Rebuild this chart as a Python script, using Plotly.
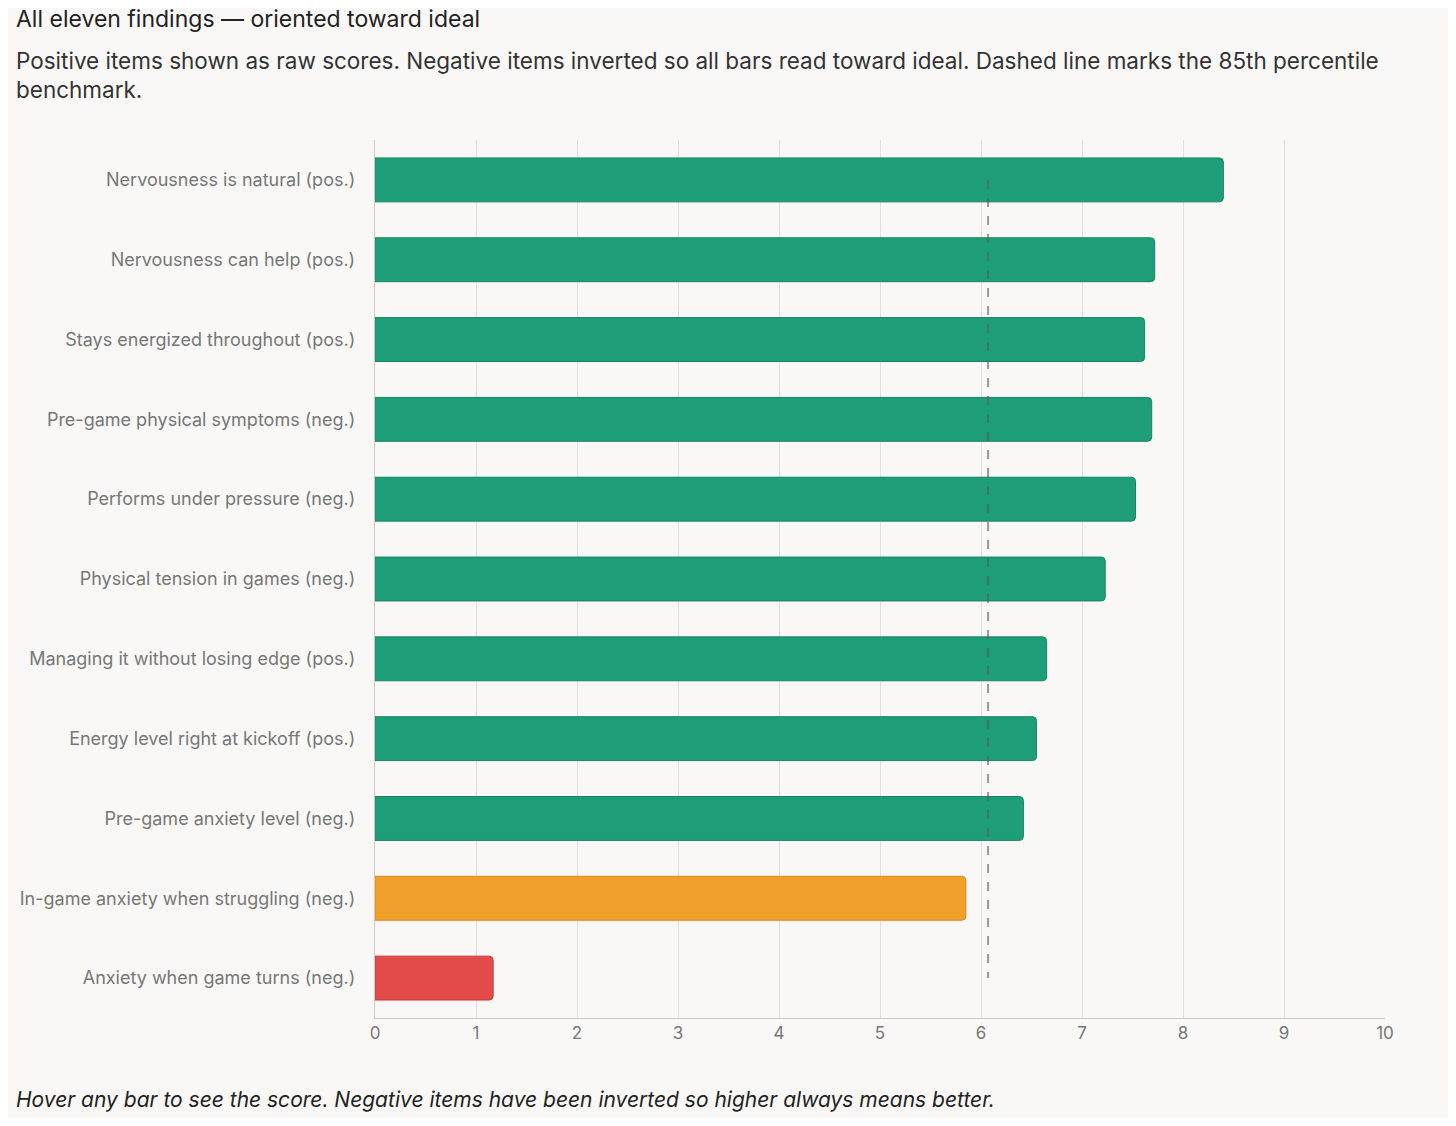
import plotly.graph_objects as go

# items top to bottom
items = [
    "Nervousness is natural (pos.)",
    "Nervousness can help (pos.)",
    "Stays energized throughout (pos.)",
    "Pre-game physical symptoms (neg.)",
    "Performs under pressure (neg.)",
    "Physical tension in games (neg.)",
    "Managing it without losing edge (pos.)",
    "Energy level right at kickoff (pos.)",
    "Pre-game anxiety level (neg.)",
    "In-game anxiety when struggling (neg.)",
    "Anxiety when game turns (neg.)",
]
scores = [8.40, 7.72, 7.62, 7.69, 7.53, 7.23, 6.65, 6.55, 6.42, 5.85, 1.17]
benchmark = 6.07

def colour(v):
    if v >= benchmark:
        return "#1e9e78"
    if v >= 4:
        return "#f0a02a"
    return "#e34a4a"

def edge(v):
    if v >= benchmark:
        return "#17875f"
    if v >= 4:
        return "#d98c18"
    return "#c93a3a"

fig = go.Figure()
fig.add_trace(go.Bar(
    x=scores, y=items, orientation="h", width=0.55,
    marker=dict(color=[colour(v) for v in scores],
                line=dict(color=[edge(v) for v in scores], width=1),
                cornerradius=4),
    hovertemplate="%{y}: %{x}<extra></extra>",
))
fig.add_trace(go.Scatter(
    x=[benchmark, benchmark], y=[items[0], items[-1]], mode="lines",
    line=dict(color="rgba(90,90,90,0.6)", width=2, dash="dash"),
    hoverinfo="skip",
))

font = "Inter, Lato, sans-serif"
fig.update_layout(
    width=1440, height=1110,
    paper_bgcolor="#f9f8f6", plot_bgcolor="#f9f8f6",
    showlegend=False,
    margin=dict(l=365, r=63, t=132, b=100),
    font=dict(family=font, color="#777", size=18),
    xaxis=dict(range=[0, 10], dtick=1, showgrid=True, gridcolor="#e2e1de",
               zeroline=False, showline=True, linecolor="#cccccc",
               ticks="", tickfont=dict(size=17, color="#777")),
    yaxis=dict(autorange=False, range=[10.5, -0.5], showgrid=False, showline=True,
               linecolor="#cccccc", ticks="", ticksuffix="   ",
               tickfont=dict(size=18, color="#777")),
)
fig.add_annotation(xref="paper", yref="paper", x=-0.357, y=1.12, xanchor="left",
                   yanchor="bottom", showarrow=False,
                   text="All eleven findings — oriented toward ideal",
                   font=dict(size=23, color="#222", family=font))
fig.add_annotation(xref="paper", yref="paper", x=-0.357, y=1.108, xanchor="left",
                   yanchor="top", showarrow=False, align="left",
                   text="Positive items shown as raw scores. Negative items inverted so all bars read toward ideal. Dashed line marks the 85th percentile<br>benchmark.",
                   font=dict(size=22.5, color="#333", family=font))
fig.add_annotation(xref="paper", yref="paper", x=-0.357, y=-0.076, xanchor="left",
                   yanchor="top", showarrow=False,
                   text="<i>Hover any bar to see the score. Negative items have been inverted so higher always means better.</i>",
                   font=dict(size=21, color="#222", family=font))

fig.write_html("out.html")
